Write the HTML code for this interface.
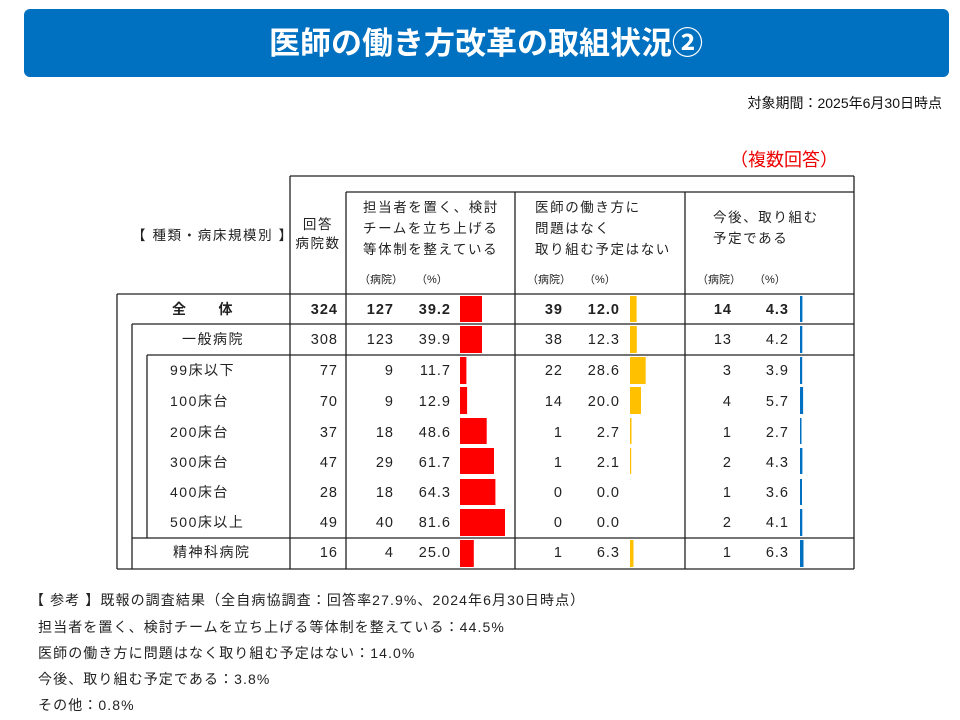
<!DOCTYPE html>
<html><head><meta charset="utf-8"><style>
body{margin:0;background:#fff;width:960px;height:720px;overflow:hidden}
svg{display:block}
text{font-family:"Liberation Sans","Noto Sans CJK JP",sans-serif;fill:#222}
</style></head><body>
<svg width="960" height="720" viewBox="0 0 960 720">
<rect x="24" y="9" width="925" height="68" rx="6" fill="#0070c0"/>
<text x="486" y="54" text-anchor="middle" font-size="31" font-weight="bold" style="fill:#fff">医師の働き方改革の取組状況②</text>
<text x="942" y="108" text-anchor="end" font-size="14" style="fill:#111">対象期間：2025年6月30日時点</text>
<text x="838" y="166" text-anchor="end" font-size="18" style="fill:#e00">（複数回答）</text>
<g stroke="#222" stroke-width="1.3" fill="none">
<line x1="290" y1="176" x2="854" y2="176"/>
<line x1="346" y1="192" x2="854" y2="192"/>
<line x1="117" y1="294" x2="854" y2="294"/>
<line x1="132" y1="324" x2="854" y2="324"/>
<line x1="147" y1="355" x2="854" y2="355"/>
<line x1="132" y1="538" x2="854" y2="538"/>
<line x1="117" y1="569" x2="854" y2="569"/>
<line x1="290" y1="176" x2="290" y2="569"/>
<line x1="346" y1="192" x2="346" y2="569"/>
<line x1="515" y1="192" x2="515" y2="569"/>
<line x1="685" y1="192" x2="685" y2="569"/>
<line x1="854" y1="176" x2="854" y2="569"/>
<line x1="117" y1="294" x2="117" y2="569"/>
<line x1="132" y1="324" x2="132" y2="569"/>
<line x1="147" y1="355" x2="147" y2="538"/>
</g>
<g font-size="13.5" letter-spacing="1.6">
<text x="132" y="240">【 種類・病床規模別 】</text>
<text x="318" y="229" text-anchor="middle">回答</text>
<text x="318" y="248" text-anchor="middle">病院数</text>
<text x="363" y="212">担当者を置く、検討</text>
<text x="363" y="233">チームを立ち上げる</text>
<text x="363" y="254">等体制を整えている</text>
<text x="535" y="212">医師の働き方に</text>
<text x="535" y="233">問題はなく</text>
<text x="535" y="254">取り組む予定はない</text>
<text x="713" y="222">今後、取り組む</text>
<text x="713" y="243">予定である</text>
</g>
<g font-size="11">
<text x="359" y="283">（病院）</text><text x="416" y="283">（%）</text>
<text x="527" y="283">（病院）</text><text x="584" y="283">（%）</text>
<text x="697" y="283">（病院）</text><text x="754" y="283">（%）</text>
</g>
<g font-size="14" letter-spacing="1.5">
<text x="203" y="314" text-anchor="middle" font-weight="bold">全　　体</text>
<text x="182" y="344">一般病院</text>
<text x="170" y="375">99床以下</text>
<text x="170" y="406">100床台</text>
<text x="170" y="437">200床台</text>
<text x="170" y="467">300床台</text>
<text x="170" y="497">400床台</text>
<text x="170" y="527">500床以上</text>
<text x="173" y="557">精神科病院</text>
</g>
<g font-size="14.5" text-anchor="end" letter-spacing="1">
<g font-weight="bold">
<text x="338" y="314">324</text><text x="394" y="314">127</text><text x="451" y="314">39.2</text>
<text x="563" y="314">39</text><text x="620" y="314">12.0</text>
<text x="732" y="314">14</text><text x="789" y="314">4.3</text>
</g>
<text x="338" y="344">308</text><text x="394" y="344">123</text><text x="451" y="344">39.9</text><text x="563" y="344">38</text><text x="620" y="344">12.3</text><text x="732" y="344">13</text><text x="789" y="344">4.2</text>
<text x="338" y="375">77</text><text x="394" y="375">9</text><text x="451" y="375">11.7</text><text x="563" y="375">22</text><text x="620" y="375">28.6</text><text x="732" y="375">3</text><text x="789" y="375">3.9</text>
<text x="338" y="406">70</text><text x="394" y="406">9</text><text x="451" y="406">12.9</text><text x="563" y="406">14</text><text x="620" y="406">20.0</text><text x="732" y="406">4</text><text x="789" y="406">5.7</text>
<text x="338" y="437">37</text><text x="394" y="437">18</text><text x="451" y="437">48.6</text><text x="563" y="437">1</text><text x="620" y="437">2.7</text><text x="732" y="437">1</text><text x="789" y="437">2.7</text>
<text x="338" y="467">47</text><text x="394" y="467">29</text><text x="451" y="467">61.7</text><text x="563" y="467">1</text><text x="620" y="467">2.1</text><text x="732" y="467">2</text><text x="789" y="467">4.3</text>
<text x="338" y="497">28</text><text x="394" y="497">18</text><text x="451" y="497">64.3</text><text x="563" y="497">0</text><text x="620" y="497">0.0</text><text x="732" y="497">1</text><text x="789" y="497">3.6</text>
<text x="338" y="527">49</text><text x="394" y="527">40</text><text x="451" y="527">81.6</text><text x="563" y="527">0</text><text x="620" y="527">0.0</text><text x="732" y="527">2</text><text x="789" y="527">4.1</text>
<text x="338" y="557">16</text><text x="394" y="557">4</text><text x="451" y="557">25.0</text><text x="563" y="557">1</text><text x="620" y="557">6.3</text><text x="732" y="557">1</text><text x="789" y="557">6.3</text>
</g>
<g fill="#ff0000">
<rect x="460" y="296" width="22" height="26"/>
<rect x="460" y="326" width="22" height="27"/>
<rect x="460" y="357" width="6.4" height="27"/>
<rect x="460" y="387" width="7.1" height="27"/>
<rect x="460" y="418" width="26.7" height="26"/>
<rect x="460" y="448" width="34" height="26"/>
<rect x="460" y="479" width="35.4" height="26"/>
<rect x="460" y="509" width="45" height="27"/>
<rect x="460" y="540" width="13.8" height="27"/>
</g>
<g fill="#ffc000">
<rect x="630" y="296" width="6.6" height="26"/>
<rect x="630" y="326" width="6.8" height="27"/>
<rect x="630" y="357" width="15.7" height="27"/>
<rect x="630" y="387" width="11" height="27"/>
<rect x="630" y="418" width="1.5" height="26"/>
<rect x="630" y="448" width="1.2" height="26"/>
<rect x="630" y="540" width="3.5" height="27"/>
</g>
<g fill="#0070c0">
<rect x="800" y="296" width="2.4" height="26"/>
<rect x="800" y="326" width="2.3" height="27"/>
<rect x="800" y="357" width="2.2" height="27"/>
<rect x="800" y="387" width="3.1" height="27"/>
<rect x="800" y="418" width="1.5" height="26"/>
<rect x="800" y="448" width="2.4" height="26"/>
<rect x="800" y="479" width="2" height="26"/>
<rect x="800" y="509" width="2.3" height="27"/>
<rect x="800" y="540" width="3.5" height="27"/>
</g>
<g font-size="14" letter-spacing="1.1">
<text x="30" y="605">【 参考 】既報の調査結果（全自病協調査：回答率27.9%、2024年6月30日時点）</text>
<text x="38" y="632">担当者を置く、検討チームを立ち上げる等体制を整えている：44.5%</text>
<text x="38" y="658">医師の働き方に問題はなく取り組む予定はない：14.0%</text>
<text x="38" y="684">今後、取り組む予定である：3.8%</text>
<text x="38" y="710">その他：0.8%</text>
</g>
</svg>
</body></html>
